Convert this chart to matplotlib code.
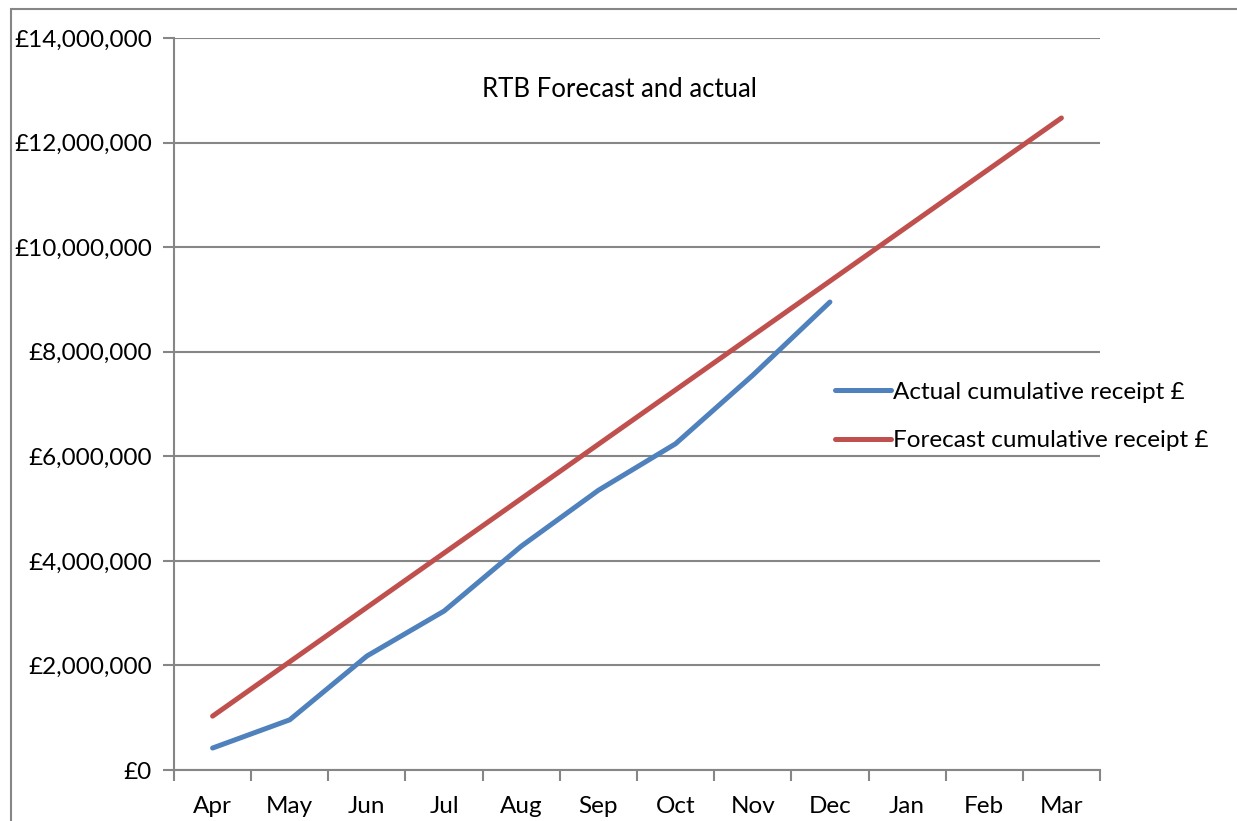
import numpy as np
import matplotlib.pyplot as plt
from matplotlib.patches import Rectangle
from matplotlib.ticker import FuncFormatter

plt.rcParams['font.family'] = ['Lato', 'DejaVu Sans']

months = ['Apr', 'May', 'Jun', 'Jul', 'Aug', 'Sep', 'Oct', 'Nov', 'Dec', 'Jan', 'Feb', 'Mar']
actual = [0.42e6, 0.96e6, 2.18e6, 3.04e6, 4.28e6, 5.35e6, 6.24e6, 7.55e6, 8.95e6]
forecast = [1.03e6, 2.07e6, 3.11e6, 4.15e6, 5.19e6, 6.23e6, 7.27e6, 8.31e6, 9.35e6,
            10.39e6, 11.43e6, 12.47e6]

gray = '#868686'
fs = 17.5

fig = plt.figure(figsize=(12.37, 8.21), dpi=100)
ax = fig.add_axes([174/1237, 1-770/821, (1100-174)/1237, (770-38)/821])

# outer chart frame (cut off at right and bottom like the original)
fig.patches.append(Rectangle((11/1237, -0.1), 1.2, 1-9/821+0.1, transform=fig.transFigure,
                             fill=False, edgecolor=gray, lw=1.5))

x = np.arange(len(months))
ax.plot(x[:len(actual)], actual, color='#4F81BD', lw=3.6, solid_capstyle='round',
        label='Actual cumulative receipt £')
ax.plot(x, forecast, color='#C0504D', lw=3.6, solid_capstyle='round',
        label='Forecast cumulative receipt £')

ax.set_xlim(-0.5, 11.5)
ax.set_ylim(0, 14e6)
ax.set_yticks(np.arange(0, 14e6 + 1, 2e6))
ax.yaxis.set_major_formatter(FuncFormatter(lambda v, p: '£{:,.0f}'.format(v)))
ax.set_xticks(np.arange(-0.5, 12, 1))
ax.set_xticklabels([])
ax.set_xticks(x, minor=True)
ax.set_xticklabels(months, minor=True)
ax.tick_params(axis='x', which='minor', length=0, pad=18.5, labelsize=fs)
ax.tick_params(axis='x', which='major', length=8, color=gray, width=1.5)
ax.tick_params(axis='y', length=8, color=gray, width=1.5, labelsize=fs, pad=8)

ax.grid(axis='y', color=gray, lw=1.5)
ax.set_axisbelow(True)
for s in ['top', 'right']:
    ax.spines[s].set_visible(False)
for s in ['left', 'bottom']:
    ax.spines[s].set_color(gray)
    ax.spines[s].set_linewidth(1.5)

ax.text(0.481, 0.929, 'RTB Forecast and actual', transform=ax.transAxes,
        ha='center', va='center', fontsize=18.5)

leg = ax.legend(loc='center left', bbox_to_anchor=(835/1237, 1-416.5/821),
                bbox_transform=fig.transFigure, frameon=False, fontsize=fs,
                handlelength=2.3, handletextpad=0.1, labelspacing=1.12,
                borderpad=0, borderaxespad=0)

plt.savefig('out.png', dpi=100)
